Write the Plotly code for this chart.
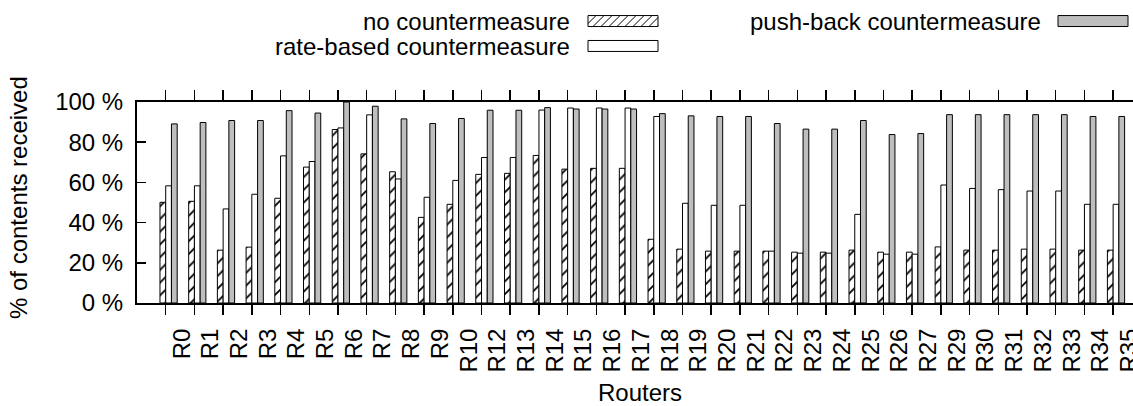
import plotly.graph_objects as go

routers = ["R0", "R1", "R2", "R3", "R4", "R5", "R6", "R7", "R8", "R9", "R10",
           "R12", "R13", "R14", "R15", "R16", "R17",
           "R18", "R19", "R20", "R21", "R22", "R23", "R24", "R25", "R26", "R27",
           "R29", "R30", "R31", "R32", "R33", "R34", "R35"]

no_countermeasure = [50.1, 50.6, 26.3, 27.8, 52.1, 67.6, 86.3, 74.2, 65.3, 42.6, 49.1,
                     64.0, 64.5, 73.4, 66.6, 67.0, 67.0,
                     31.7, 26.8, 25.8, 25.8, 25.8, 25.3, 25.3, 26.3, 25.3, 25.3,
                     27.9, 26.3, 26.3, 26.8, 26.8, 26.3, 26.3]

rate_based = [58.3, 58.3, 46.8, 54.1, 73.2, 70.4, 87.1, 93.6, 61.7, 52.6, 61.0,
              72.4, 72.4, 96.0, 97.0, 97.0, 97.0,
              92.8, 49.6, 48.6, 48.6, 25.8, 24.8, 24.8, 44.1, 24.3, 24.3,
              58.7, 57.0, 56.4, 55.7, 55.7, 49.1, 49.1]

push_back = [89.1, 89.8, 90.8, 90.8, 95.7, 94.5, 100.0, 97.9, 91.6, 89.3, 91.8,
             95.9, 95.9, 97.2, 96.5, 96.5, 96.5,
             94.2, 93.1, 92.8, 92.8, 89.3, 86.5, 86.5, 90.8, 83.8, 84.3,
             93.7, 93.7, 93.7, 93.7, 93.7, 92.8, 92.8]

y_ticks = [0, 20, 40, 60, 80, 100]

FONT = "Liberation Sans, Arial, sans-serif"
FS = 24
GRAY = "#bebebe"

W, H = 1133, 406
L, T, B = 137, 101.7, 303.3
R_EDGE = 1133


def px(x):
    return (x - L) / (R_EDGE - L)


def py(y):
    return (B - y) / (B - T)


fig = go.Figure()
bw = 0.2
fig.add_trace(go.Bar(
    x=routers, y=no_countermeasure, name="no countermeasure",
    width=bw, offset=-bw,
    marker=dict(color="white", line=dict(color="black", width=1),
                pattern=dict(shape="/", fgcolor="black", bgcolor="white",
                             size=9, solidity=0.2)),
))
fig.add_trace(go.Bar(
    x=routers, y=rate_based, name="rate-based countermeasure",
    width=bw, offset=0,
    marker=dict(color="white", line=dict(color="black", width=1)),
))
fig.add_trace(go.Bar(
    x=routers, y=push_back, name="push-back countermeasure",
    width=bw, offset=bw,
    marker=dict(color=GRAY, line=dict(color="black", width=1)),
))

unit = 28.71
right_range = (R_EDGE - (L + unit)) / unit

fig.update_layout(
    template="none",
    width=W, height=H,
    margin=dict(l=L, r=W - R_EDGE, t=T, b=H - B, pad=0, autoexpand=False),
    paper_bgcolor="white", plot_bgcolor="white",
    barmode="overlay",
    showlegend=False,
    font=dict(family=FONT, size=FS, color="black"),
    xaxis=dict(
        type="category",
        automargin=False,
        range=[-1, right_range],
        tickmode="array", tickvals=routers, ticktext=routers,
        tickangle=-90,
        ticks="outside", ticklen=10, tickwidth=1.5, tickcolor="black",
        showline=True, linecolor="black", linewidth=2, mirror="ticks",
        showgrid=False, zeroline=False,
        ticklabelshift=16, ticklabelstandoff=4,
        tickfont=dict(family=FONT, size=FS, color="black"),
    ),
    yaxis=dict(
        automargin=False,
        range=[0, 100],
        tickmode="array", tickvals=y_ticks,
        ticktext=[f"{v} %" for v in y_ticks],
        ticks="inside", ticklen=9, tickwidth=1.5, tickcolor="black",
        showline=True, linecolor="black", linewidth=2, mirror=False,
        showgrid=False, zeroline=False,
        ticklabelstandoff=7,
        tickfont=dict(family=FONT, size=FS, color="black"),
    ),
)

annotations = [
    dict(text="% of contents received", xref="paper", yref="paper",
         x=px(18), y=py(198), textangle=-90, showarrow=False,
         xanchor="center", yanchor="middle",
         font=dict(family=FONT, size=FS, color="black")),
    dict(text="Routers", xref="paper", yref="paper",
         x=px(640), y=py(393), showarrow=False,
         xanchor="center", yanchor="middle",
         font=dict(family=FONT, size=FS, color="black")),
]

legend_items = [
    ("no countermeasure", 571, 21, 588, 658, 15, 26, "hatch"),
    ("rate-based countermeasure", 571, 46, 588, 658, 40, 51, "white"),
    ("push-back countermeasure", 1042, 21, 1058, 1128, 15, 26, "gray"),
]

shapes = []
for text, tx, ty, x0, x1, y0, y1, kind in legend_items:
    annotations.append(dict(text=text, xref="paper", yref="paper",
                            x=px(tx), y=py(ty), showarrow=False,
                            xanchor="right", yanchor="middle", borderpad=0,
                            font=dict(family=FONT, size=FS, color="black")))
    fill = {"hatch": "white", "white": "white", "gray": GRAY}[kind]
    shapes.append(dict(type="rect", xref="paper", yref="paper",
                       x0=px(x0), x1=px(x1), y0=py(y1), y1=py(y0),
                       fillcolor=fill, line=dict(color="black", width=1)))
    if kind == "hatch":
        h = y1 - y0
        step = 8
        s = x0 - h
        while s < x1:
            ax, ay, bx, by = s, y1, s + h, y0
            if ax < x0:
                ay = y1 - (x0 - ax)
                ax = x0
            if bx > x1:
                by = y0 + (bx - x1)
                bx = x1
            if bx > ax:
                shapes.append(dict(type="line", xref="paper", yref="paper",
                                   x0=px(ax), y0=py(ay), x1=px(bx), y1=py(by),
                                   line=dict(color="black", width=1)))
            s += step

fig.update_layout(annotations=annotations, shapes=shapes)

fig.write_html(
    "out.html",
    config={"displayModeBar": False, "staticPlot": True},
    post_script="document.body.style.margin='0';document.body.style.overflow='hidden';",
)
